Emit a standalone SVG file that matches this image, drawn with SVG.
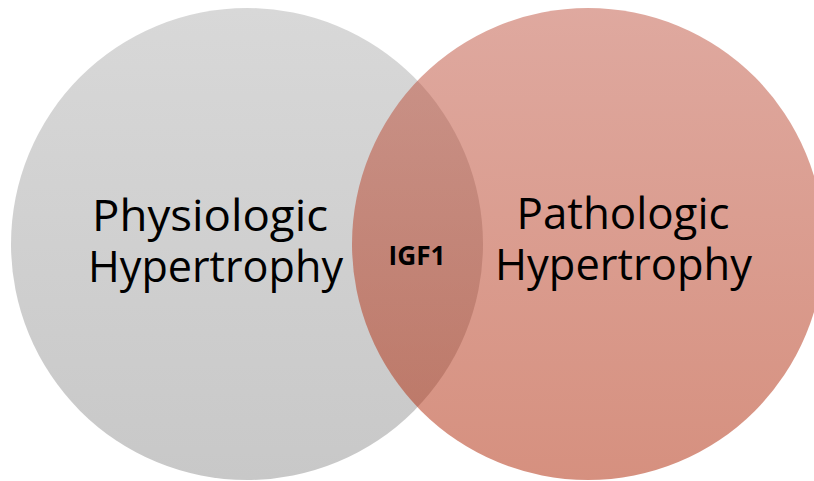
<svg xmlns="http://www.w3.org/2000/svg" width="814" height="481" viewBox="0 0 814 481">
  <defs>
    <linearGradient id="gGray" x1="0" y1="0" x2="0" y2="1">
      <stop offset="0" stop-color="#d8d8d8"/>
      <stop offset="1" stop-color="#c8c8c8"/>
    </linearGradient>
    <linearGradient id="gRed" x1="0" y1="0" x2="0" y2="1">
      <stop offset="0" stop-color="#bf5340"/>
      <stop offset="1" stop-color="#ad2200"/>
    </linearGradient>
    <style>
      .lbl { font-family: "Open Sans", "Noto Sans", "Liberation Sans", sans-serif; font-size: 44px; fill: #000000; text-anchor: middle; }
      .mid { font-family: "Open Sans", "Noto Sans", "Liberation Sans", sans-serif; font-size: 26px; font-weight: bold; fill: #000000; text-anchor: middle; }
    </style>
  </defs>
  <rect width="814" height="481" fill="#ffffff"/>
  <g id="physiologic">
    <circle cx="247" cy="244" r="236" fill="url(#gGray)"/>
  </g>
  <g id="pathologic">
    <circle cx="588" cy="244" r="236" fill="url(#gRed)" fill-opacity="0.5"/>
  </g>
  <g id="labels">
    <text class="lbl" x="210" y="231" textLength="236" lengthAdjust="spacingAndGlyphs">Physiologic</text>
    <text class="lbl" x="215.5" y="282" textLength="255" lengthAdjust="spacingAndGlyphs">Hypertrophy</text>
    <text class="lbl" x="623" y="229" textLength="213" lengthAdjust="spacingAndGlyphs">Pathologic</text>
    <text class="lbl" x="623.5" y="280" textLength="257" lengthAdjust="spacingAndGlyphs">Hypertrophy</text>
    <text class="mid" x="417" y="265" textLength="57" lengthAdjust="spacingAndGlyphs">IGF1</text>
  </g>
  <g id="connectors"/>
</svg>
